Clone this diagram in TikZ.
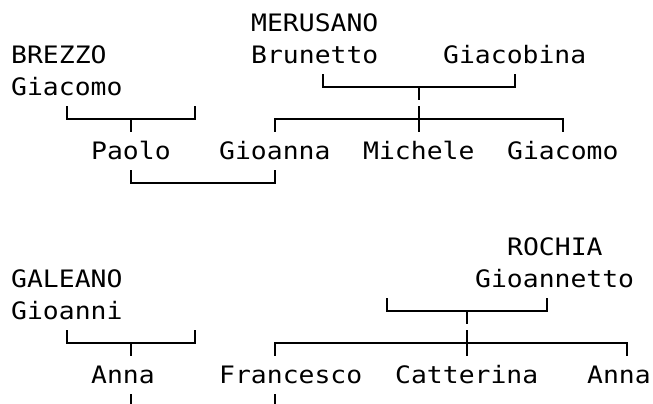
\documentclass[tikz,border=0pt]{standalone}
\usepackage{fontspec}
\setmonofont[FakeStretch=1.1]{DejaVu Sans Mono}
\usetikzlibrary{positioning}

\begin{document}
\begin{tikzpicture}[
    x=16pt, y=-32pt,
    person/.style={font=\ttfamily\fontsize{24}{24}\selectfont, inner sep=0pt, anchor=base west},
    link/.style={line width=1.6pt}
]
\useasboundingbox (-0.6875,-0.71875) rectangle (40.125,11.906);
% upper family
\node[person] (merusano) at (15,0.28) {MERUSANO};
\node[person] (brezzo) at (0,1.28) {BREZZO};
\node[person] (brunetto) at (15,1.28) {Brunetto};
\node[person] (giacobina) at (27,1.28) {Giacobina};
\node[person] (giacomoB) at (0,2.28) {Giacomo};
\node[person] (paolo) at (5,4.28) {Paolo};
\node[person] (gioanna) at (13,4.28) {Gioanna};
\node[person] (michele) at (22,4.28) {Michele};
\node[person] (giacomoM) at (31,4.28) {Giacomo};
% lower family
\node[person] (rochia) at (31,7.28) {ROCHIA};
\node[person] (galeano) at (0,8.28) {GALEANO};
\node[person] (gioannetto) at (29,8.28) {Gioannetto};
\node[person] (gioanni) at (0,9.28) {Gioanni};
\node[person] (anna) at (5,11.28) {Anna};
\node[person] (francesco) at (13,11.28) {Francesco};
\node[person] (catterina) at (24,11.28) {Catterina};
\node[person] (annaR) at (36,11.28) {Anna};

% junction points
\coordinate (bz-l) at (3.5,2.594);  \coordinate (bz-r) at (11.5,2.594);  \coordinate (bz-t) at (7.5,3);
\coordinate (mr-l) at (19.5,1.594); \coordinate (mr-r) at (31.5,1.594); \coordinate (mr-t) at (25.5,2);
\coordinate (mk-l) at (16.5,3.406); \coordinate (mk-r) at (34.5,3.406); \coordinate (mk-t) at (25.5,3);
\coordinate (pg-l) at (7.5,4.594);  \coordinate (pg-r) at (16.5,4.594);
\coordinate (gl-l) at (3.5,9.594);  \coordinate (gl-r) at (11.5,9.594);  \coordinate (gl-t) at (7.5,10);
\coordinate (rc-l) at (23.5,8.594); \coordinate (rc-r) at (33.5,8.594); \coordinate (rc-t) at (28.5,9);
\coordinate (rk-l) at (16.5,10.406); \coordinate (rk-r) at (38.5,10.406); \coordinate (rk-t) at (28.5,10);
\coordinate (an-d) at (7.5,11.594); \coordinate (fr-d) at (16.5,11.594);

\draw[link] (bz-l) |- (bz-t) -| (bz-r);
\draw[link] (bz-t) -- ++(0,0.406);
\draw[link] (mr-l) |- (mr-t) -| (mr-r);
\draw[link] (mr-t) -- ++(0,0.406);
\draw[link] (mk-l) |- (mk-t) -| (mk-r);
\draw[link] (mk-t) ++(0,-0.406) -- ++(0,0.812);
\draw[link] (pg-l) |- (7.5,5) -| (pg-r);
\draw[link] (gl-l) |- (gl-t) -| (gl-r);
\draw[link] (gl-t) -- ++(0,0.406);
\draw[link] (rc-l) |- (rc-t) -| (rc-r);
\draw[link] (rc-t) -- ++(0,0.406);
\draw[link] (rk-l) |- (rk-t) -| (rk-r);
\draw[link] (rk-t) ++(0,-0.406) -- ++(0,0.812);
\draw[link] (an-d) -- ++(0,0.4);
\draw[link] (fr-d) -- ++(0,0.4);
\end{tikzpicture}
\end{document}
